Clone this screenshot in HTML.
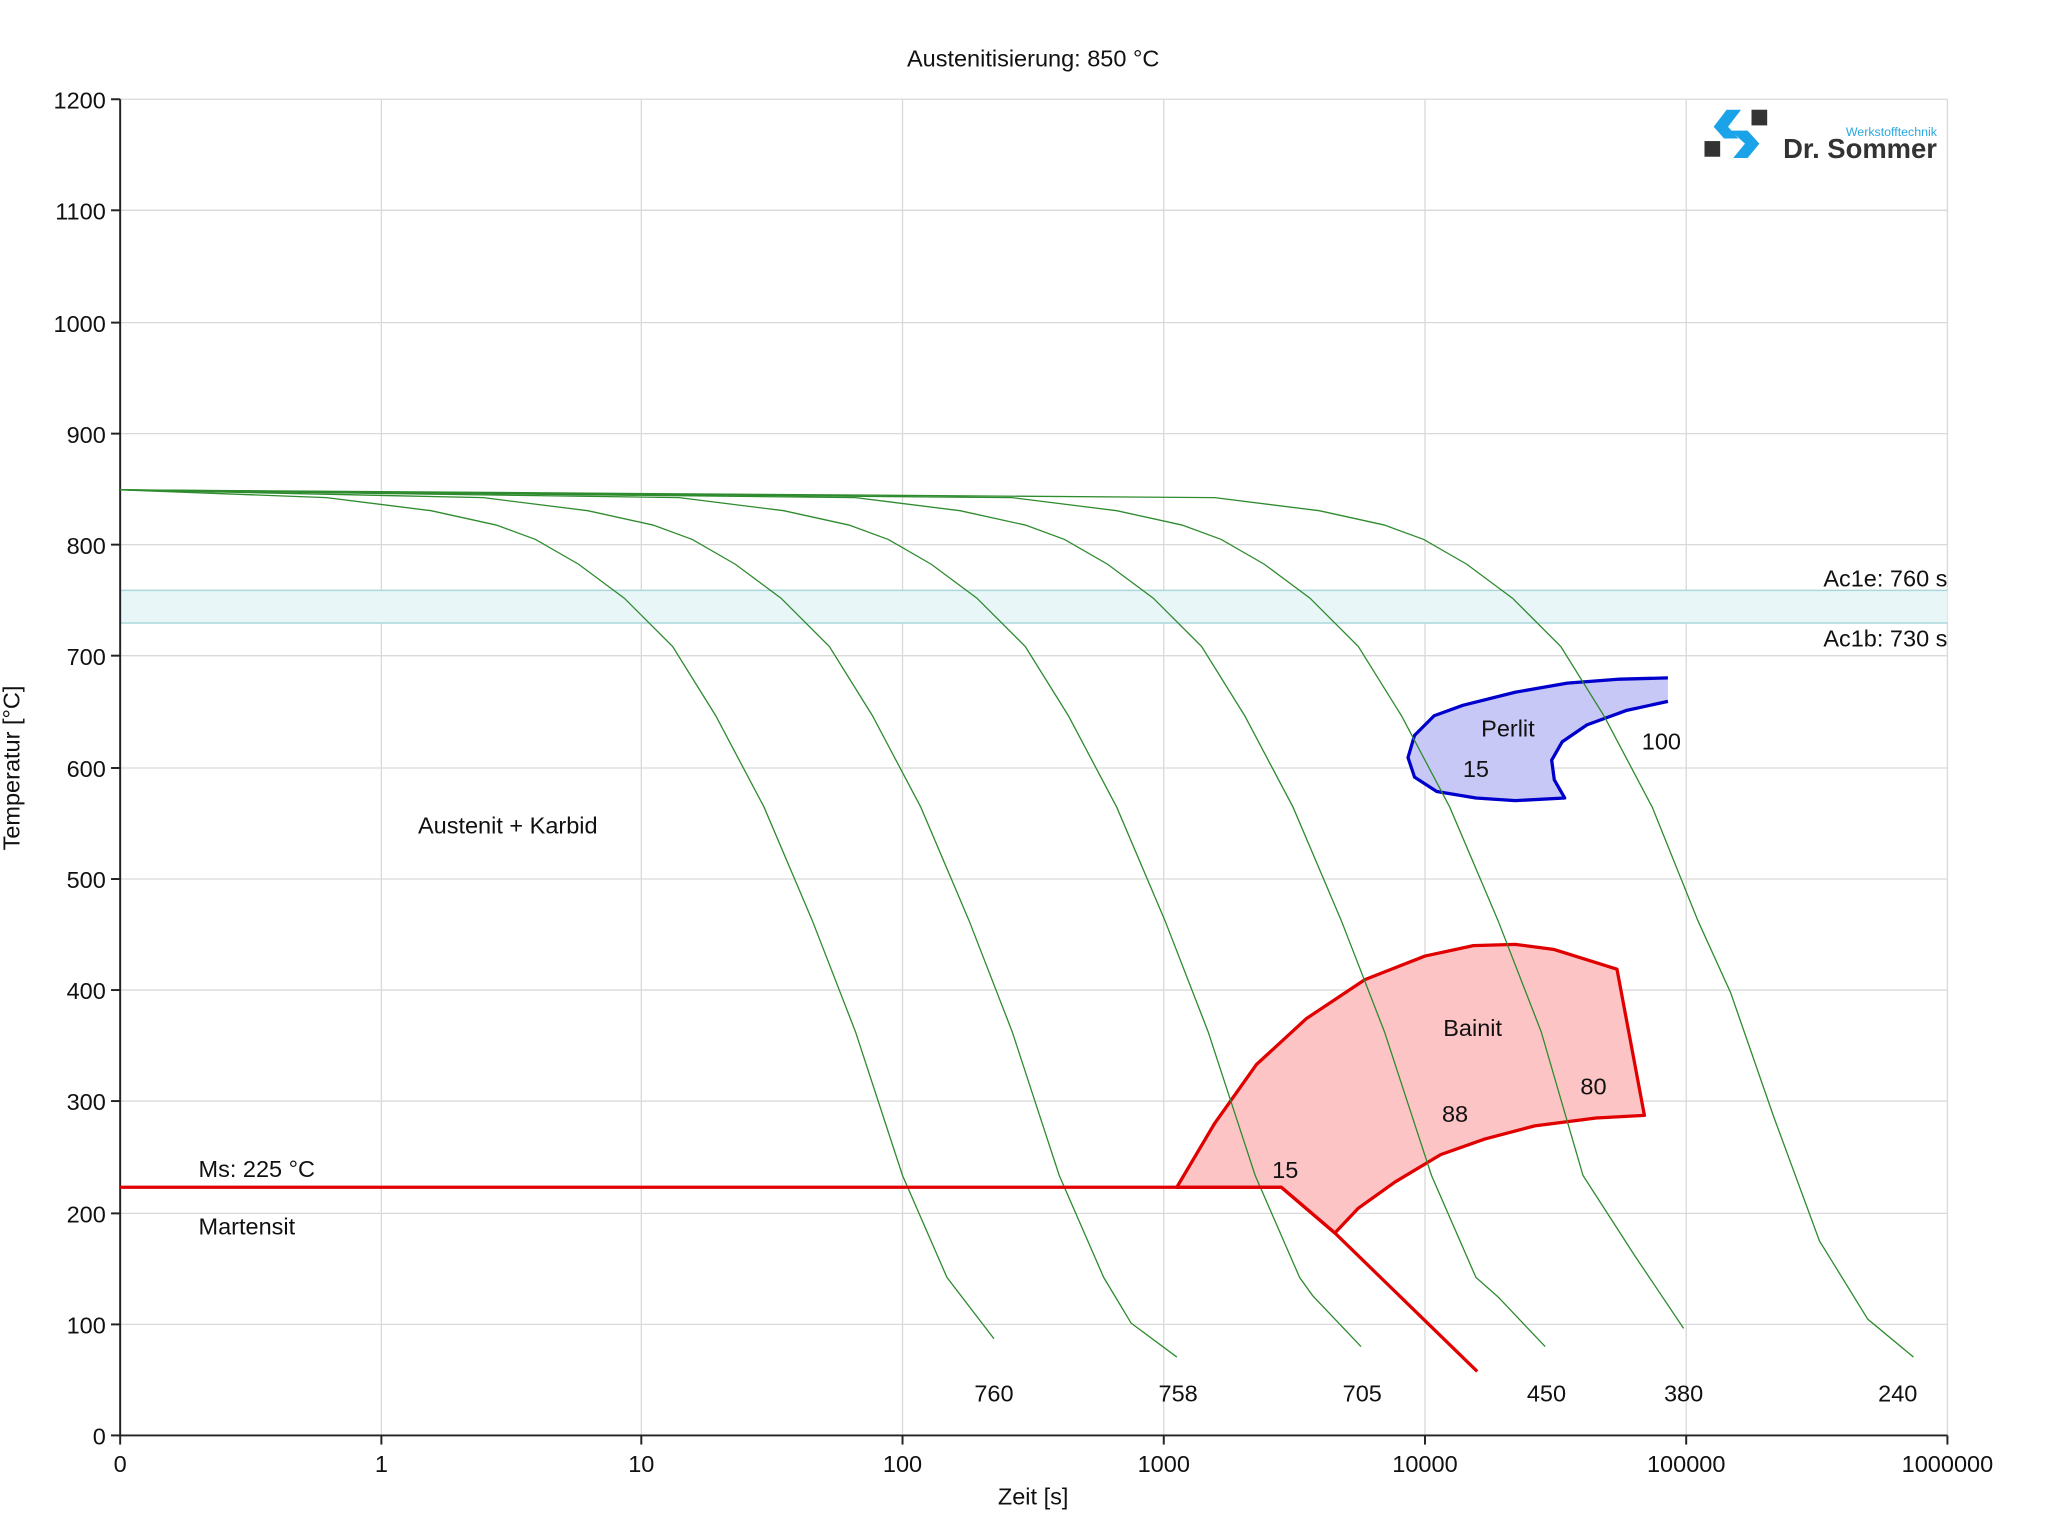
<!DOCTYPE html>
<html><head><meta charset="utf-8"><style>
html,body{margin:0;padding:0;background:#fff}
svg{display:block}
text{font-family:"Liberation Sans",sans-serif;fill:#111}
</style></head><body>
<svg width="2048" height="1536" viewBox="0 0 1568 1176" preserveAspectRatio="none" xmlns="http://www.w3.org/2000/svg">
<rect width="1568" height="1176" fill="#fff"/>
<!-- grid -->
<g stroke="#d9d9d9" stroke-width="1">
<line x1="292" y1="76" x2="292" y2="1099"/><line x1="491" y1="76" x2="491" y2="1099"/><line x1="691" y1="76" x2="691" y2="1099"/><line x1="891" y1="76" x2="891" y2="1099"/><line x1="1091" y1="76" x2="1091" y2="1099"/><line x1="1291" y1="76" x2="1291" y2="1099"/><line x1="1491" y1="76" x2="1491" y2="1099"/>
<line x1="92" y1="76" x2="1491" y2="76"/><line x1="92" y1="161" x2="1491" y2="161"/><line x1="92" y1="247" x2="1491" y2="247"/><line x1="92" y1="332" x2="1491" y2="332"/><line x1="92" y1="417" x2="1491" y2="417"/><line x1="92" y1="502" x2="1491" y2="502"/><line x1="92" y1="588" x2="1491" y2="588"/><line x1="92" y1="673" x2="1491" y2="673"/><line x1="92" y1="758" x2="1491" y2="758"/><line x1="92" y1="843" x2="1491" y2="843"/><line x1="92" y1="929" x2="1491" y2="929"/><line x1="92" y1="1014" x2="1491" y2="1014"/>
</g>
<!-- Ac band -->
<rect x="92" y="452" width="1399" height="25" fill="#e8f6f8"/>
<line x1="92" y1="452" x2="1491" y2="452" stroke="#a9d7dc" stroke-width="1.2"/>
<line x1="92" y1="477" x2="1491" y2="477" stroke="#a9d7dc" stroke-width="1.2"/>
<!-- axes -->
<g stroke="#222" stroke-width="1.5">
<line x1="92" y1="76" x2="92" y2="1099"/><line x1="92" y1="1099" x2="1491" y2="1099"/>
<line x1="85" y1="76" x2="92" y2="76"/><line x1="85" y1="161" x2="92" y2="161"/><line x1="85" y1="247" x2="92" y2="247"/><line x1="85" y1="332" x2="92" y2="332"/><line x1="85" y1="417" x2="92" y2="417"/><line x1="85" y1="502" x2="92" y2="502"/><line x1="85" y1="588" x2="92" y2="588"/><line x1="85" y1="673" x2="92" y2="673"/><line x1="85" y1="758" x2="92" y2="758"/><line x1="85" y1="843" x2="92" y2="843"/><line x1="85" y1="929" x2="92" y2="929"/><line x1="85" y1="1014" x2="92" y2="1014"/><line x1="85" y1="1099" x2="92" y2="1099"/>
<line x1="92" y1="1099" x2="92" y2="1106"/><line x1="292" y1="1099" x2="292" y2="1106"/><line x1="491" y1="1099" x2="491" y2="1106"/><line x1="691" y1="1099" x2="691" y2="1106"/><line x1="891" y1="1099" x2="891" y2="1106"/><line x1="1091" y1="1099" x2="1091" y2="1106"/><line x1="1291" y1="1099" x2="1291" y2="1106"/><line x1="1491" y1="1099" x2="1491" y2="1106"/>
</g>
<g font-size="18" text-anchor="end">
<text x="81" y="83">1200</text><text x="81" y="168">1100</text><text x="81" y="254">1000</text><text x="81" y="339">900</text><text x="81" y="424">800</text><text x="81" y="509">700</text><text x="81" y="595">600</text><text x="81" y="680">500</text><text x="81" y="765">400</text><text x="81" y="850">300</text><text x="81" y="936">200</text><text x="81" y="1021">100</text><text x="81" y="1106">0</text>
</g>
<g font-size="18" text-anchor="middle">
<text x="92" y="1127">0</text><text x="292" y="1127">1</text><text x="491" y="1127">10</text><text x="691" y="1127">100</text><text x="891" y="1127">1000</text><text x="1091" y="1127">10000</text><text x="1291" y="1127">100000</text><text x="1491" y="1127">1000000</text>
<text x="791" y="1152">Zeit [s]</text>
<text x="791" y="51">Austenitisierung: 850 °C</text>
<text transform="translate(15,588) rotate(-90)">Temperatur [°C]</text>
</g>
<!-- bainit -->
<path d="M901,909 L930,860 L962,815 L1000,780 L1045,750 L1091,732 L1128,724 L1160,723 L1190,727 L1238,742 L1259,854 L1222,856 L1175,862 L1137,872 L1103,884 L1068,905 L1040,925 L1022,944 L981,909 Z" fill="#fcc4c4" stroke="#e00000" stroke-width="2.5" stroke-linejoin="round"/>
<!-- perlit -->
<path d="M1277,519 L1240,520 L1200,523 L1160,530 L1120,540 L1098,548 L1083,563 L1078,580 L1083,595 L1100,606 L1130,611 L1160,613 L1198,611 L1190,597 L1188,582 L1196,568 L1215,555 L1245,544 L1277,537" fill="#c8c8f6" stroke="#0000cc" stroke-width="2.5" stroke-linejoin="round"/>
<!-- green curves -->
<g fill="none" stroke="#2e8b2e" stroke-width="1">
<polyline points="92,375 250,381 330,391 380,402 410,413 443,432 478,458 515,495 548,548 585,618 622,705 655,790 691,900 725,978 761,1025"/>
<polyline points="92,375 370,381 450,391 500,402 530,413 563,432 598,458 635,495 668,548 705,618 742,705 775,790 811,900 845,978 866,1013 901,1039"/>
<polyline points="92,375 520,381 600,391 650,402 680,413 713,432 748,458 785,495 818,548 855,618 892,705 925,790 961,900 995,978 1005,992 1042,1031"/>
<polyline points="92,375 655,381 735,391 785,402 815,413 848,432 883,458 920,495 953,548 990,618 1027,705 1060,790 1096,900 1130,978 1147,993 1183,1031"/>
<polyline points="92,375 775,381 855,391 905,402 935,413 968,432 1003,458 1040,495 1073,548 1110,618 1147,705 1180,790 1212,900 1252,962 1289,1017"/>
<polyline points="92,375 930,381 1010,391 1060,402 1090,413 1123,432 1158,458 1195,495 1228,548 1265,618 1300,705 1325,760 1358,855 1393,950 1430,1010 1465,1039"/>
</g>
<!-- Ms line -->
<polyline points="92,909 981,909 1022,944 1131,1050" fill="none" stroke="#e00000" stroke-width="2.5"/>
<!-- labels -->
<g font-size="18">
<text x="152" y="901">Ms: 225 °C</text>
<text x="152" y="945">Martensit</text>
<text x="320" y="638">Austenit + Karbid</text>
<text x="1105" y="793">Bainit</text>
<text x="1210" y="838">80</text>
<text x="1104" y="859">88</text>
<text x="974" y="902">15</text>
<text x="1134" y="564">Perlit</text>
<text x="1120" y="595">15</text>
<text x="1257" y="574">100</text>
<text x="1491" y="449" text-anchor="end">Ac1e: 760 s</text>
<text x="1491" y="495" text-anchor="end">Ac1b: 730 s</text>
</g>
<g font-size="18" text-anchor="middle">
<text x="761" y="1073">760</text><text x="902" y="1073">758</text><text x="1043" y="1073">705</text><text x="1184" y="1073">450</text><text x="1289" y="1073">380</text><text x="1453" y="1073">240</text>
</g>
<!-- logo -->
<g>
<rect x="1305" y="108" width="12" height="12" fill="#333"/>
<rect x="1341" y="84" width="12" height="12" fill="#333"/>
<polygon points="1322,84 1333,84 1323,97 1331,106 1320,106 1312,97" fill="#1aa3e8"/>
<polygon points="1325,100 1338,100 1347,110 1338,121 1327,121 1336,110" fill="#1aa3e8"/>
<text x="1483" y="104" font-size="9.5" text-anchor="end" style="fill:#29a8e0">Werkstofftechnik</text>
<text x="1483" y="121" font-size="21" font-weight="bold" text-anchor="end" style="fill:#333">Dr. Sommer</text>
</g>
</svg>
</body></html>
